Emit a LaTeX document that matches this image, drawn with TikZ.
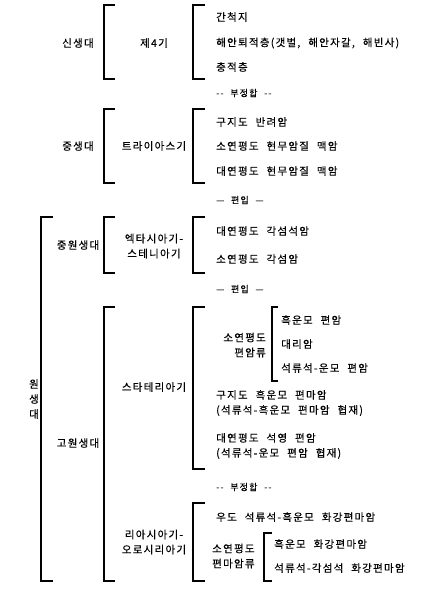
\documentclass[tikz,border=0pt]{standalone}
\usepackage{fontspec}
\newfontfamily\krfont[LetterSpace=12, WordSpace=2.2, FakeBold=0.35]{Noto Sans CJK KR}
\tikzset{brk/.style = {line width=1.2pt}}
\tikzset{lbl/.style = {font=\krfont\fontsize{10.5}{15}\selectfont, inner sep=0}}
\tikzset{item/.style = {lbl, anchor=west}}
\tikzset{gap/.style = {font=\krfont\fontsize{9}{10}\selectfont, inner sep=0, anchor=west}}
\newcommand{\brkt}[4]{\draw [brk] (#2,#3) -- (#1,#3) -- (#1,#4) -- (#2,#4);}

\begin{document}
\begin{tikzpicture}[x=1pt, y=-1pt]
        \useasboundingbox (0,0) rectangle (437,589);
        % brackets
        \brkt{104}{115}{5}{79}
        \brkt{193}{205}{5}{79}
        \brkt{104}{115}{109}{183}
        \brkt{193}{205}{109}{183}
        \brkt{41}{53}{217}{581}
        \brkt{104}{115}{217}{273}
        \brkt{193}{205}{217}{273}
        \brkt{104}{115}{307}{581}
        \brkt{193}{205}{307}{469}
        \brkt{272}{278}{307}{381}
        \brkt{193}{205}{503}{581}
        \brkt{264}{272}{533}{581}
        % eras and periods
        \node [lbl] (sinsaeng) at (78,43) {신생대};
        \node [lbl] (je4) at (154,43) {제4기};
        \node [lbl] (jungsaeng) at (78,146) {중생대};
        \node [lbl] (trias) at (154,146) {트라이아스기};
        \node [lbl, align=center] (wonsaeng) at (34,399) {원\\생\\대};
        \node [lbl] (jungwon) at (78,245) {중원생대};
        \node [lbl, align=center] (ectasian) at (154,246) {엑타시아기-\\스테니아기};
        \node [lbl] (gowon) at (78,443) {고원생대};
        \node [lbl] (statherian) at (154,387) {스타테리아기};
        \node [lbl, align=center] (rhyacian) at (154,542) {리아시아기-\\오로시리아기};
        % rock units
        \node [item] (gancheok) at (216,17) {간척지};
        \node [item] (haean) at (216,43) {해안퇴적층(갯벌, 해안자갈, 해빈사)};
        \node [item] (chungjeok) at (216,67) {충적층};
        \node [gap] (unconf1) at (216,93) {-{}- 부정합 -{}-};
        \node [item] (gujido1) at (216,122) {구지도 반려암};
        \node [item] (soyeon1) at (216,146) {소연평도 현무암질 맥암};
        \node [item] (daeyeon1) at (216,171) {대연평도 현무암질 맥암};
        \node [gap] (incorp1) at (216,200) {— 편입 —};
        \node [item] (daeyeon2) at (216,231) {대연평도 각섬석암};
        \node [item] (soyeon2) at (216,259) {소연평도 각섬암};
        \node [gap] (incorp2) at (216,289) {— 편입 —};
        \node [lbl, align=right, anchor=east] (schist) at (266,345) {소연평도\\편암류};
        \node [item] (biotite1) at (281,320) {흑운모 편암};
        \node [item] (marble) at (281,344) {대리암};
        \node [item] (garnet1) at (281,368) {석류석-운모 편암};
        \node [item, align=left] (gujido2) at (216,403) {구지도 흑운모 편마암\\(석류석-흑운모 편마암 협재)};
        \node [item, align=left] (daeyeon3) at (216,446) {대연평도 석영 편암\\(석류석-운모 편암 협재)};
        \node [gap] (unconf2) at (216,487) {-{}- 부정합 -{}-};
        \node [item] (udo) at (216,517) {우도 석류석-흑운모 화강편마암};
        \node [item, align=left] (gneiss) at (212,556) {소연평도\\편마암류};
        \node [item] (biotite2) at (274,544) {흑운모 화강편마암};
        \node [item] (garnet2) at (274,568) {석류석-각섬석 화강편마암};
    \end{tikzpicture}
\end{document}
